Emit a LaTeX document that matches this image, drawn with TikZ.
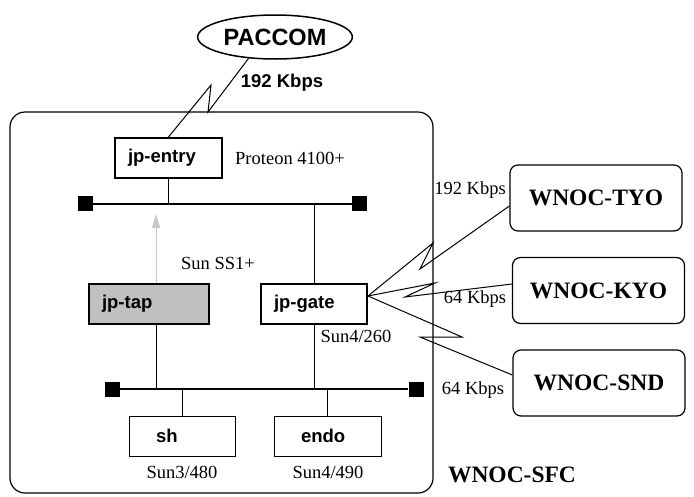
\documentclass[tikz,border=0pt]{standalone}
\usepackage{fontspec}
\setmainfont{Liberation Serif}
\setsansfont{Liberation Sans}
\usetikzlibrary{shapes.geometric, arrows.meta, positioning}
\definecolor{TapGrey}{HTML}{C0C0C0}
\definecolor{ArrowGrey}{HTML}{C8C8C8}
\newcommand{\lblsize}{\fontsize{18.5}{21}\selectfont}
\newcommand{\sitefont}{\fontsize{23.5}{26}\selectfont}
\tikzset{
    % Plain label style
    every node/.style={font=\lblsize},
    % Host box style
    host/.style={
        rectangle,
        draw=black,
        fill=white,
        line width=2pt,
        minimum height=40pt,
        inner xsep=13pt,
        inner ysep=0pt,
        align=left,
        font=\sffamily\bfseries\lblsize
    },
    % Tap host (shaded)
    taphost/.style={
        host,
        fill=TapGrey
    },
    % Server box style
    server/.style={
        rectangle,
        draw=black,
        fill=white,
        line width=1pt,
        minimum height=40pt,
        inner xsep=27pt,
        inner ysep=0pt,
        align=left,
        font=\sffamily\bfseries\lblsize
    },
    % Remote site style
    site/.style={
        rectangle,
        rounded corners=8pt,
        draw=black,
        line width=1.2pt,
        minimum width=172pt,
        minimum height=66pt,
        align=center,
        font=\bfseries\sitefont
    },
    % Bus terminator
    term/.style={
        rectangle,
        fill=black,
        minimum size=15pt,
        inner sep=0pt
    },
    % Bus line
    bus/.style={line width=2pt},
    % Drop line
    drop/.style={line width=1pt},
    % Serial link style
    link/.style={line width=1pt, line join=miter}
}

\begin{document}
\begin{tikzpicture}[x=1pt, y=-1pt]
        \useasboundingbox (0,0) rectangle (694,496);

        % Local site frame
        \draw [line width=1.2pt, rounded corners=15pt] (10,112) rectangle (433,493);
        \node (sfc) [font=\bfseries\sitefont] at (512,475) {WNOC-SFC};

        % Upstream
        \node (paccom) [ellipse, draw, line width=1.5pt, minimum width=133pt, minimum height=44pt,
            font=\sffamily\bfseries\sitefont] at (275,37) {PACCOM};
        \node (rate0) [font=\sffamily\bfseries\lblsize] at (282,83) {192 Kbps};

        % Upper segment
        \node (entry) [host, text width=81pt] at (168.5,158) {jp-entry};
        \node (proteon) at (290,158) {Proteon 4100+};
        \node (termA) [term] at (85.5,203.5) {};
        \node (termB) [term] at (359.5,203.5) {};
        \draw [bus] (termA) -- (termB);

        % Hosts between segments
        \node (tap) [taphost, text width=94pt] at (149,303.5) {jp-tap};
        \node (gate) [host, text width=80pt] at (314,303.5) {jp-gate};
        \node (ss1) at (218,263) {Sun SS1+};
        \node (sun260) at (356,336) {Sun4/260};
        \coordinate (tapend) at (156,214);

        % Lower segment
        \node (termC) [term] at (112,389) {};
        \node (termD) [term] at (416,389) {};
        \draw [bus] (termC) -- (termD);
        \node (sh) [server, text width=52pt] at (182,436) {sh};
        \node (endo) [server, text width=53pt] at (327.5,436) {endo};
        \node (sun480) at (182,472) {Sun3/480};
        \node (sun490) at (328,472) {Sun4/490};

        \draw [drop] (entry.south) -- (entry.south |- termA);
        \draw [drop] (gate.north) -- (gate.north |- termA);
        \draw [drop] (gate.south) -- (gate.south |- termC);
        \draw [drop] ([xshift=7pt]tap.south) -- ([xshift=7pt]tap.south |- termC);
        \draw [drop] (sh.north) -- (sh.north |- termC);
        \draw [drop] (endo.north) -- (endo.north |- termC);
        \draw [ArrowGrey, line width=1pt, -{Triangle[length=14pt, width=8pt]}] ([xshift=7pt]tap.north) -- (tapend);

        % Remote sites
        \node (tyo) [site] at (596,198) {WNOC-TYO};
        \node (kyo) [site] at (598.5,290.5) {WNOC-KYO};
        \node (snd) [site] at (599,383) {WNOC-SND};
        \node (rate1) at (470,190) {192 Kbps};
        \node (rate2) at (475,299) {64 Kbps};
        \node (rate3) at (473,390) {64 Kbps};

        % Serial links
        \draw [link] (paccom.219) -- (208,112) -- (211,85) -- (entry.north);
        \draw [link] ([yshift=7.5pt]gate.east) -- (433,243) -- (420,269) -- ([yshift=-8pt]tyo.west);
        \draw [link] ([yshift=7.5pt]gate.east) -- (435,283) -- (405,297) -- ([yshift=6.5pt]kyo.west);
        \draw [link] ([yshift=7.5pt]gate.east) -- (462,337) -- (420,337) -- ([yshift=8pt]snd.west);
    \end{tikzpicture}
\end{document}
